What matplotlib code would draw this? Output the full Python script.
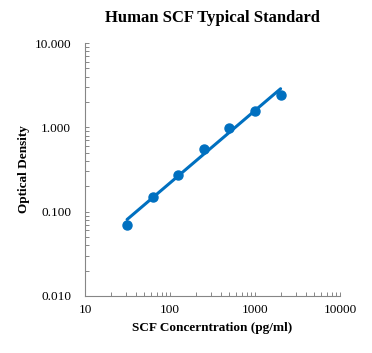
import numpy as np
import matplotlib
matplotlib.use("Agg")
import matplotlib.pyplot as plt
from matplotlib.ticker import FixedLocator, LogLocator, NullFormatter

conc = [31.25, 62.5, 125, 250, 500, 1000, 2000]
od = [0.070, 0.148, 0.275, 0.560, 0.975, 1.58, 2.45]
x_ticks = [10, 100, 1000, 10000]
x_labels = ["10", "100", "1000", "10000"]
y_ticks = [0.01, 0.1, 1, 10]
y_labels = ["0.010", "0.100", "1.000", "10.000"]

plt.rcParams['font.family'] = ['Liberation Serif', 'DejaVu Serif']
color = '#0070C0'

fig = plt.figure(figsize=(3.72, 3.53), dpi=100)
ax = fig.add_axes([0.2285, 0.1615, 0.6855, 0.7165])

# power-law fit
p = np.polyfit(np.log10(conc), np.log10(od), 1)
xf = np.array([conc[0], conc[-1]])
yf = 10 ** np.polyval(p, np.log10(xf))
ax.plot(xf, yf, color=color, lw=2.2, solid_capstyle='round')
ax.plot(conc, od, 'o', color=color, ms=6.5)

ax.set_xscale('log')
ax.set_yscale('log')
ax.set_xlim(10, 10000)
ax.set_ylim(0.01, 10)
ax.xaxis.set_major_locator(FixedLocator(x_ticks))
ax.set_xticklabels(x_labels)
ax.yaxis.set_major_locator(FixedLocator(y_ticks))
ax.set_yticklabels(y_labels)
ax.xaxis.set_minor_locator(LogLocator(base=10, subs=np.arange(2, 10)))
ax.yaxis.set_minor_locator(LogLocator(base=10, subs=np.arange(2, 10)))
ax.xaxis.set_minor_formatter(NullFormatter())
ax.yaxis.set_minor_formatter(NullFormatter())

for s in ['top', 'right']:
    ax.spines[s].set_visible(False)
for s in ['left', 'bottom']:
    ax.spines[s].set_color('#868686')
    ax.spines[s].set_linewidth(0.8)

ax.tick_params(which='both', direction='in', length=3, width=0.7, color='#868686', labelsize=9.5)
ax.tick_params(axis='x', pad=6)
ax.tick_params(axis='y', pad=10)

ax.set_title('Human SCF Typical Standard', fontsize=12, fontweight='bold', pad=15)
ax.set_xlabel('SCF Concerntration (pg/ml)', fontsize=9.5, fontweight='bold', labelpad=4)
ax.set_ylabel('Optical Density', fontsize=9.5, fontweight='bold', labelpad=3)

fig.savefig('out.png', dpi=100)
